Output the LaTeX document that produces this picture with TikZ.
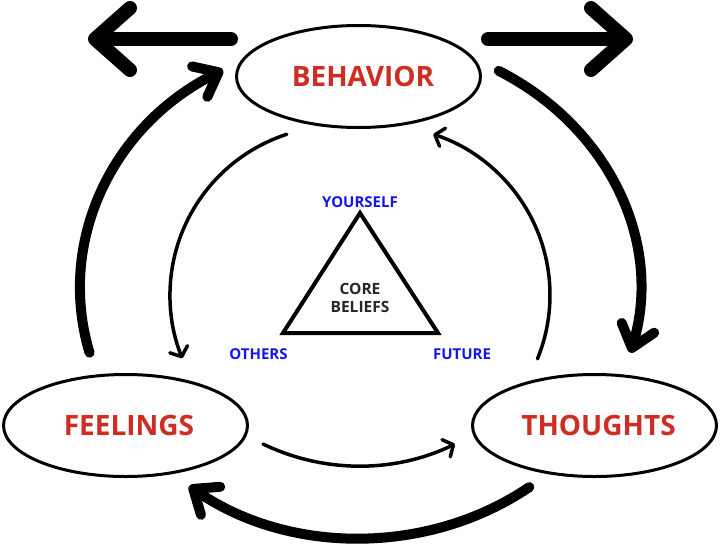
\documentclass[tikz,border=0pt]{standalone}
\usepackage{fontspec}
\setmainfont{Open Sans}
\usetikzlibrary{arrows.meta,shapes.geometric}
\definecolor{lblred}{RGB}{205,45,35}
\definecolor{lblblue}{RGB}{20,20,235}
\begin{document}
\begin{tikzpicture}[x=1pt,y=-1pt,
  oval/.style={draw,line width=3pt,ellipse,minimum width=244pt,minimum height=102pt,inner sep=0pt,text=lblred,font=\bfseries\fontsize{28}{32}\selectfont},
  bigarrow/.style={line width=14pt,line cap=round,-{Straight Barb[length=35pt 0,width=62pt 0,round]}},
  thickarc/.style={line width=10pt,line cap=round,-{Straight Barb[length=21pt 0,width=34pt 0,round]}},
  thinarc/.style={line width=3.5pt,line cap=round,-{Straight Barb[length=8pt 0,width=19pt 0,round]}},
  corner/.style={text=lblblue,font=\bfseries\fontsize{15}{18}\selectfont,inner sep=0pt},
  corebox/.style={align=center,font=\bfseries\fontsize{15.5}{18.5}\selectfont,text=black!85,inner sep=0pt}
]
\useasboundingbox (0,0) rectangle (720,544);
% ellipses
\node[oval] (beh) at (358.5,76.5) {\hspace*{9pt}BEHAVIOR};
\node[oval] (feel) at (125.5,425.5) {\hspace*{7pt}FEELINGS};
\node[oval] (thou) at (594.5,425.5) {\hspace*{8pt}THOUGHTS};
% centres of the cycles
\coordinate (outerc) at (360,288);
\coordinate (thinL) at (339,295);
\coordinate (thinR) at (381,295);
\coordinate (thinB) at (359,245.5);
% big outward arrows
\coordinate (outL) at (88,39);
\coordinate (outR) at (633,39);
\draw[bigarrow] ([shift={(-127.5,-37.5)}]beh.center) -- (outL);
\draw[bigarrow] ([shift={(129.5,-37.5)}]beh.center) -- (outR);
% thick outer cycle
\draw[thickarc] (outerc) ++(165:280 and 250) arc[start angle=165,end angle=240.7,x radius=280,y radius=250];
\draw[thickarc] (outerc) ++(-60.3:280 and 250) arc[start angle=-60.3,end angle=15,x radius=280,y radius=250];
\draw[thickarc] (outerc) ++(52.8:280 and 250) arc[start angle=52.8,end angle=127.6,x radius=280,y radius=250];
% thin inner cycle
\draw[thinarc] (thinL) ++(-108:169) arc[start angle=-108,end angle=-202,radius=169];
\draw[thinarc] (thinR) ++(22.2:169) arc[start angle=22.2,end angle=-72,radius=169];
\draw[thinarc] (thinB) ++(115.8:220.5) arc[start angle=115.8,end angle=64.2,radius=220.5];
% triangle
\coordinate (ta) at (360,213);
\coordinate (tl) at (283,333);
\coordinate (tr) at (438,333);
\draw[line width=4pt] (ta) -- (tl) -- (tr) -- cycle;
\node[corebox] (core) at (360,298) {CORE\\BELIEFS};
\node[corner] (ys) at (360,202) {YOURSELF};
\node[corner] (oth) at (258.5,354) {OTHERS};
\node[corner] (fut) at (462,354) {FUTURE};
\end{tikzpicture}
\end{document}
